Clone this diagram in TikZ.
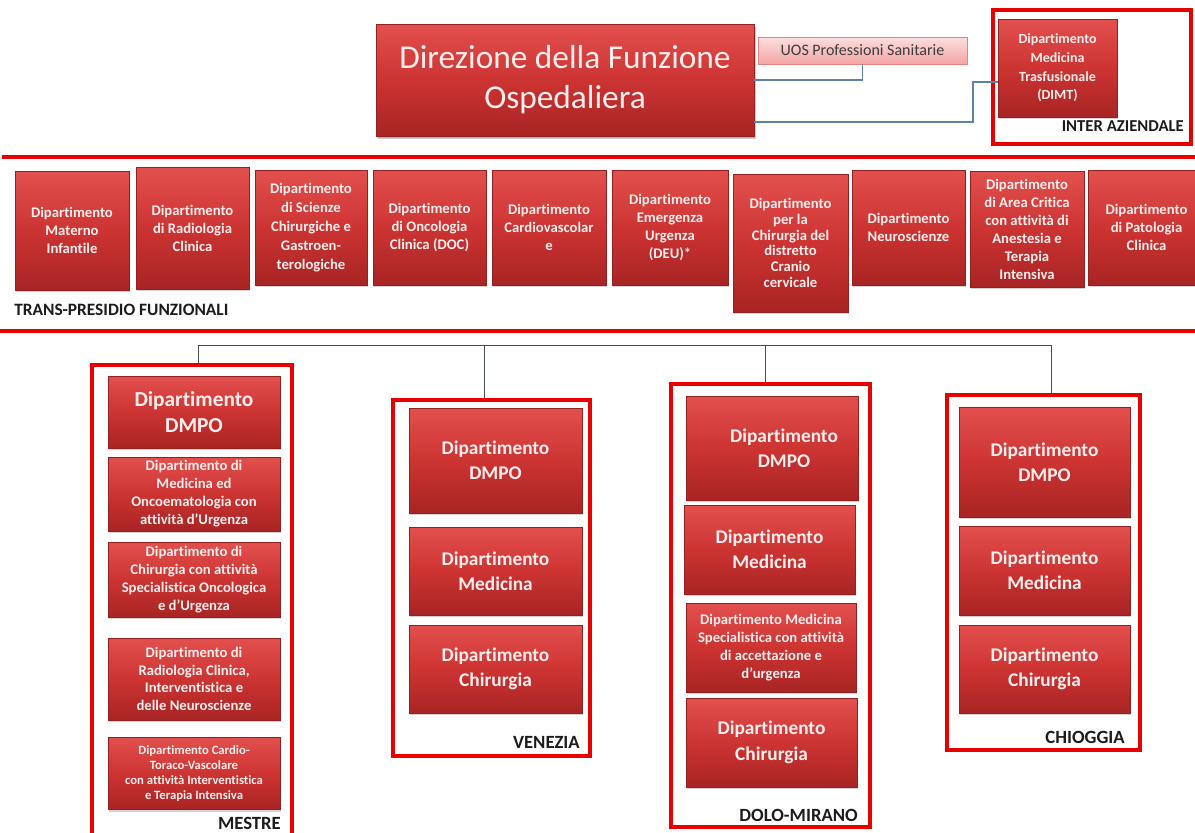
\documentclass[tikz,border=0pt]{standalone}
\usepackage{fontspec}
\setmainfont{Carlito}[Ligatures=NoCommon]
\usetikzlibrary{shadows}
\definecolor{boxtop}{RGB}{226,80,78}
\definecolor{boxmid}{RGB}{204,52,50}
\definecolor{boxbot}{RGB}{168,36,36}
\definecolor{boxline}{RGB}{150,32,32}
\definecolor{boxtext}{RGB}{253,238,238}
\definecolor{framered}{RGB}{230,0,0}
\definecolor{connblue}{RGB}{95,130,170}
\definecolor{treegray}{RGB}{70,80,80}
\definecolor{labeltext}{RGB}{28,28,28}
\definecolor{uostop}{RGB}{252,222,222}
\definecolor{uosbot}{RGB}{242,165,165}
\definecolor{uosline}{RGB}{228,130,130}
\definecolor{uostext}{RGB}{60,60,60}
\begin{document}
\begin{tikzpicture}[x=0.75pt,y=-0.75pt,
  dept/.style 2 args={draw=boxline, line width=0.4pt, top color=boxtop, bottom color=boxbot, middle color=boxmid,
    minimum width=#1*0.75pt, minimum height=#2*0.75pt, inner sep=1pt, align=center, text=boxtext,
    font=\bfseries\fontsize{11}{13.5}\selectfont,
    drop shadow={opacity=0.35, shadow xshift=0.8pt, shadow yshift=-1.5pt}},
  bigtext/.style={font=\bfseries\fontsize{14.5}{19}\selectfont},
  frame/.style 2 args={draw=framered, line width=3pt, minimum width=#1*0.75pt, minimum height=#2*0.75pt, inner sep=0pt},
  sitelabel/.style={font=\bfseries\fontsize{14}{16}\selectfont, text=labeltext, inner sep=0pt},
  grouplabel/.style={font=\bfseries\fontsize{12.5}{15}\selectfont, text=labeltext, inner sep=0pt},
  conn/.style={draw=connblue, line width=0.8pt},
  tree/.style={draw=treegray, line width=0.7pt},
  sepline/.style={draw=framered, line width=3pt}
]
\fill[white] (0,0) rectangle (1195,832);
\useasboundingbox (0,0) rectangle (1195,832);

% ---- top ----
\node[dept={378}{112}, font=\fontsize{25}{30}\selectfont,
  drop shadow={opacity=0.4, shadow xshift=1.5pt, shadow yshift=-2.5pt}] (dir) at (565,80)
  {Direzione della Funzione\\Ospedaliera};
\node[draw=uosline, line width=0.5pt, top color=uostop, bottom color=uosbot, minimum width=209*0.75pt,
  minimum height=27*0.75pt, inner sep=0pt, text=uostext, font=\fontsize{12}{14}\selectfont] (uos) at (862.5,50.5)
  {UOS Professioni Sanitarie};
\node[frame={198}{134}] (interaz) at (1092,77) {};
\node[dept={119}{98}, font=\bfseries\fontsize{10.5}{14}\selectfont] (dimt) at (1057.5,68)
  {Dipartimento\\Medicina\\Trasfusionale\\(DIMT)};
\node[grouplabel, anchor=east] (linter) at (1184,126) {INTER AZIENDALE};

\coordinate (cj) at (973,82);
\coordinate (c122) at (0,122);
\draw[conn] (uos.south) |- (dir.east);
\draw[conn] (dir.east |- c122) -| (cj) -- (cj -| dimt.west);

% ---- separators ----
\draw[sepline] (2,157) -- (1195,157);
\draw[sepline] (0,331) -- (1195,331);

% ---- trans-presidio row ----
\node[dept={114}{119}] (t1) at (72,230.5) {Dipartimento\\Materno\\Infantile};
\node[dept={113}{122}] (t2) at (192.5,228) {Dipartimento\\di Radiologia\\Clinica};
\node[dept={112}{115}, font=\bfseries\fontsize{11}{14.2}\selectfont] (t3) at (311,227.5) {Dipartimento\\di Scienze\\Chirurgiche e\\Gastroen-\\terologiche};
\node[dept={113}{115}] (t4) at (429.5,227.5) {Dipartimento\\di Oncologia\\Clinica (DOC)};
\node[dept={114}{115}] (t5) at (549,227.5) {Dipartimento\\Cardiovascolar\\e};
\node[dept={116}{115}] (t6) at (670,227.5) {Dipartimento\\Emergenza\\Urgenza\\(DEU)*};
\node[dept={115}{138}, font=\bfseries\fontsize{11}{11.8}\selectfont] (t7) at (790.5,243) {Dipartimento\\per la\\Chirurgia del\\distretto\\Cranio\\cervicale};
\node[dept={113}{115}] (t8) at (908.5,227.5) {Dipartimento\\Neuroscienze};
\node[dept={114}{116}] (t9) at (1027,229) {Dipartimento\\di Area Critica\\con attività di\\Anestesia e\\Terapia\\Intensiva};
\node[dept={117}{115}] (t10) at (1146.5,227.5) {Dipartimento\\di Patologia\\Clinica};
\node[grouplabel, anchor=west, font=\bfseries\fontsize{13}{15}\selectfont] (ltrans) at (14,310) {TRANS-PRESIDIO FUNZIONALI};

% ---- frames ----
\node[frame={200}{480}] (mestre) at (192,605) {};
\node[frame={197}{356}] (venezia) at (491.5,578) {};
\node[frame={199}{443}] (dolo) at (770.5,605.5) {};
\node[frame={193}{355}] (chioggia) at (1043.5,572.5) {};

\coordinate (bus) at (0,345);
\draw[tree] ([xshift=6*0.75pt]mestre.north) -- ([xshift=6*0.75pt]mestre.north |- bus)
  -- ([xshift=7.5*0.75pt]chioggia.north |- bus) -- ([xshift=7.5*0.75pt]chioggia.north);
\draw[tree] ([xshift=-7.5*0.75pt]venezia.north) -- ([xshift=-7.5*0.75pt]venezia.north |- bus);
\draw[tree] ([xshift=-5.5*0.75pt]dolo.north) -- ([xshift=-5.5*0.75pt]dolo.north |- bus);

% ---- Mestre ----
\node[dept={172}{72}, font=\bfseries\fontsize{16}{20}\selectfont] (m1) at (194,412) {Dipartimento\\DMPO};
\node[dept={172}{74}] (m2) at (194,494) {Dipartimento di\\Medicina ed\\Oncoematologia con\\attività d’Urgenza};
\node[dept={172}{75}] (m3) at (194,579.5) {Dipartimento di\\Chirurgia con attività\\Specialistica Oncologica\\e d’Urgenza};
\node[dept={172}{82}, font=\bfseries\fontsize{11}{13.3}\selectfont] (m4) at (194,679) {Dipartimento di\\Radiologia Clinica,\\Interventistica e\\delle Neuroscienze};
\node[dept={172}{72}, font=\bfseries\fontsize{9.5}{11.4}\selectfont] (m5) at (194,773.5) {Dipartimento Cardio-\\Toraco-Vascolare\\con attività Interventistica\\e Terapia Intensiva};
\node[sitelabel, anchor=east] (lmestre) at (281,823) {MESTRE};

% ---- Venezia ----
\node[dept={173}{105}, bigtext] (v1) at (495.5,460.5) {Dipartimento\\DMPO};
\node[dept={173}{88}, bigtext] (v2) at (495.5,571) {Dipartimento\\Medicina};
\node[dept={173}{88}, bigtext] (v3) at (495.5,669) {Dipartimento\\Chirurgia};
\node[sitelabel, anchor=east] (lvenezia) at (580,742) {VENEZIA};

% ---- Dolo-Mirano ----
\node[dept={172}{104}, bigtext] (d1) at (772,448) {\hspace*{18pt}Dipartimento\\\hspace*{18pt}DMPO};
\node[dept={171}{89}, bigtext] (d2) at (769.5,549.5) {Dipartimento\\Medicina};
\node[dept={170}{89}] (d3) at (771,647.5) {Dipartimento Medicina\\Specialistica con attività\\di accettazione e\\d’urgenza};
\node[dept={171}{89}, bigtext] (d4) at (771.5,742.5) {Dipartimento\\Chirurgia};
\node[sitelabel, anchor=east] (ldolo) at (858,815) {DOLO-MIRANO};

% ---- Chioggia ----
\node[dept={171}{110}, bigtext] (c1) at (1044.5,462) {Dipartimento\\DMPO};
\node[dept={171}{89}, bigtext] (c2) at (1044.5,570.5) {Dipartimento\\Medicina};
\node[dept={171}{88}, bigtext] (c3) at (1044.5,669) {Dipartimento\\Chirurgia};
\node[sitelabel, anchor=east] (lchioggia) at (1125,737) {CHIOGGIA};
\end{tikzpicture}
\end{document}
